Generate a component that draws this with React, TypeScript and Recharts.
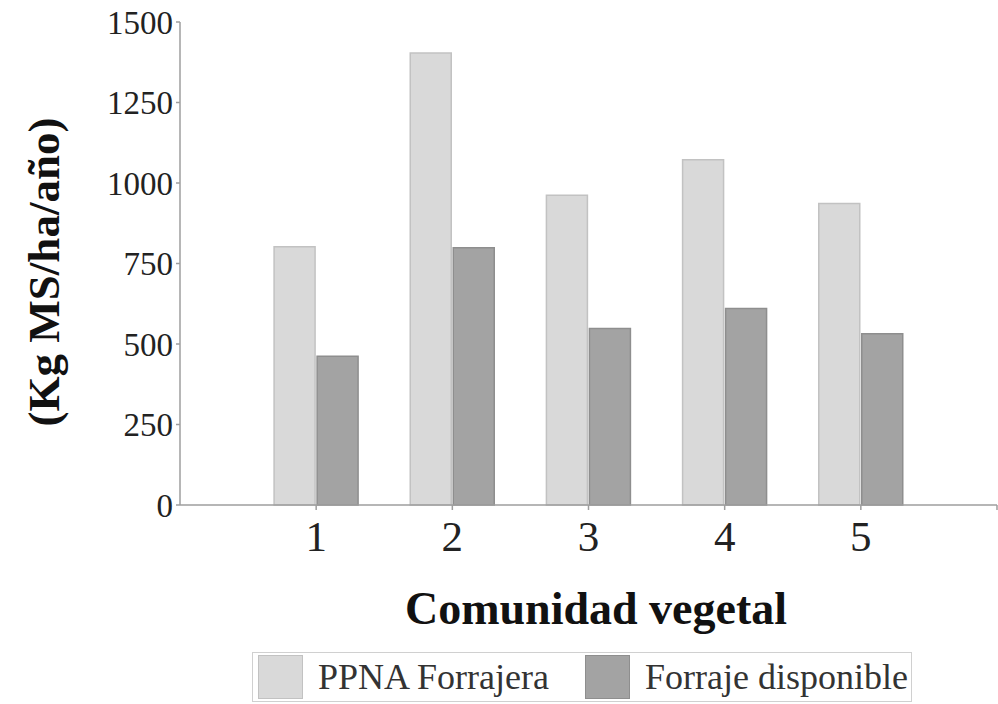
import React from "react";
import { BarChart, Bar, XAxis, YAxis, Legend } from "recharts";

const comunidades = [1, 2, 3, 4, 5];
const ppnaForrajera = [802, 1404, 962, 1072, 936];
const forrajeDisponible = [462, 799, 548, 610, 532];
const yTicks = [0, 250, 500, 750, 1000, 1250, 1500];
const xTicks = [1, 2, 3, 4, 5, 6];

const series = [
  { key: "ppna", name: "PPNA Forrajera", fill: "#d9d9d9", stroke: "#c2c2c2" },
  { key: "disp", name: "Forraje disponible", fill: "#a3a3a3", stroke: "#8e8e8e" },
];

const data = comunidades.map((c, i) => ({
  comunidad: c,
  ppna: ppnaForrajera[i],
  disp: forrajeDisponible[i],
}));

const FONT = "'Liberation Serif', 'Times New Roman', serif";

const LegendBox = () => (
  <div
    style={{
      display: "flex",
      alignItems: "center",
      height: 50,
      border: "1.5px solid #d0d0d0",
      boxSizing: "border-box",
      paddingLeft: 5,
      fontFamily: FONT,
      fontSize: 36,
      color: "#333",
    }}
  >
    {series.map((s, i) => (
      <div key={s.key} style={{ display: "flex", alignItems: "center", marginLeft: i ? 36 : 0 }}>
        <div
          style={{
            width: 45,
            height: 44,
            background: s.fill,
            border: `1.5px solid ${s.stroke}`,
            boxSizing: "border-box",
          }}
        />
        <span style={{ marginLeft: 15, whiteSpace: "nowrap" }}>{s.name}</span>
      </div>
    ))}
  </div>
);

export default function App() {
  return (
    <div style={{ position: "absolute", left: 0, top: 0, width: 998, height: 704, background: "#fff" }}>
      <BarChart
        width={998}
        height={704}
        data={data}
        margin={{ top: 22, right: 1, left: 0, bottom: 0 }}
        barSize={41}
        barGap={2}
      >
        <XAxis
          dataKey="comunidad"
          type="number"
          domain={[0, 6]}
          ticks={xTicks}
          tickFormatter={(v) => (v === 6 ? "" : String(v))}
          height={199}
          stroke="#9e9e9e"
          strokeWidth={1.5}
          tickSize={5}
          tickMargin={10}
          tick={{ fill: "#222", fontSize: 43, fontFamily: FONT }}
          label={{
            content: () => (
              <text
                x={596}
                y={624}
                textAnchor="middle"
                fontFamily={FONT}
                fontWeight="bold"
                fontSize={46}
                fill="#111"
              >
                Comunidad vegetal
              </text>
            ),
          }}
        />
        <YAxis
          domain={[0, 1500]}
          ticks={yTicks}
          width={180}
          stroke="#9e9e9e"
          strokeWidth={1.5}
          tickSize={4}
          tickMargin={3}
          tick={{ fill: "#222", fontSize: 33, fontFamily: FONT }}
          label={{
            content: () => (
              <text
                x={59}
                y={272}
                transform="rotate(-90 59 272)"
                textAnchor="middle"
                fontFamily={FONT}
                fontWeight="bold"
                fontSize={45}
                fill="#111"
              >
                (Kg MS/ha/año)
              </text>
            ),
          }}
        />
        <Legend
          layout="horizontal"
          verticalAlign="middle"
          align="center"
          content={() => <LegendBox />}
          wrapperStyle={{ left: 252, top: 652, width: 660, height: 50 }}
        />
        {series.map((s) => (
          <Bar
            key={s.key}
            dataKey={s.key}
            name={s.name}
            fill={s.fill}
            stroke={s.stroke}
            strokeWidth={1.5}
            isAnimationActive={false}
          />
        ))}
      </BarChart>
    </div>
  );
}
